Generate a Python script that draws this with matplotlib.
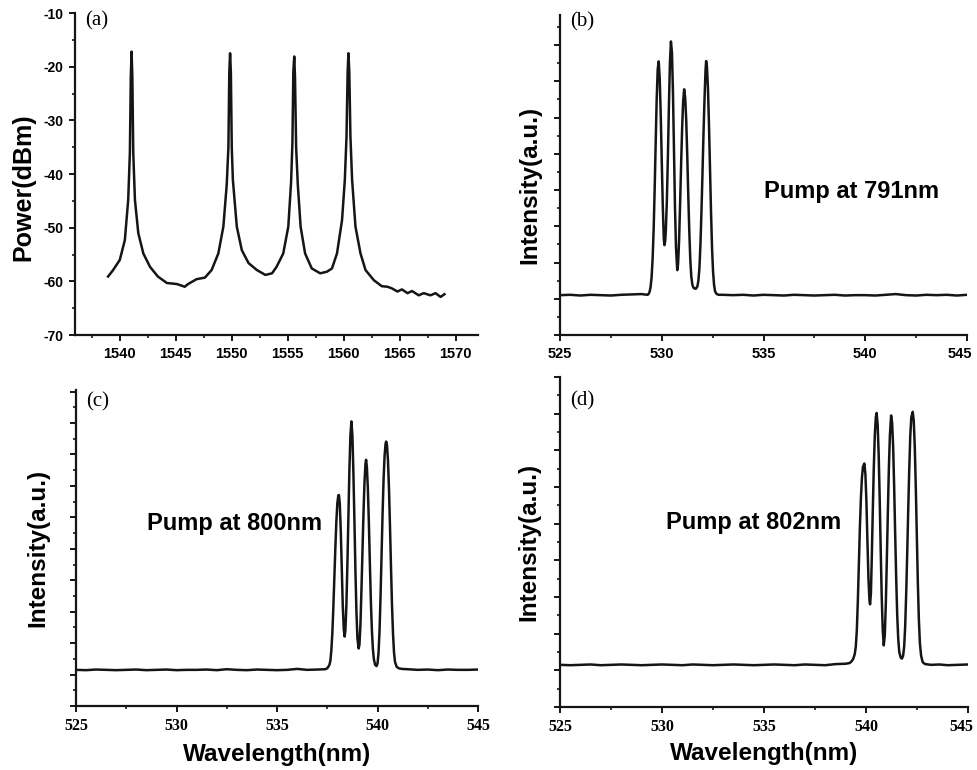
import matplotlib
matplotlib.use("Agg")
import matplotlib.pyplot as plt
import matplotlib.transforms as mtransforms
from matplotlib.ticker import MultipleLocator, NullFormatter

plt.rcParams["font.family"] = ["Liberation Sans", "DejaVu Sans"]
plt.rcParams["axes.unicode_minus"] = False

# (a) fundamental spectrum, power in dBm
lam_a = [1538.95, 1539.4, 1540.0, 1540.45, 1540.75, 1540.9, 1540.98, 1541.05, 1541.12, 1541.2,
         1541.35, 1541.65, 1542.1, 1542.7, 1543.4, 1544.2, 1545.1, 1545.8, 1546.1, 1546.85,
         1547.6, 1548.2, 1548.8, 1549.25, 1549.55, 1549.7, 1549.78, 1549.85, 1549.92, 1550.0,
         1550.1, 1550.45, 1550.9, 1551.5, 1552.25, 1553.0, 1553.6, 1554.0, 1554.6, 1555.05,
         1555.3, 1555.42, 1555.5, 1555.58, 1555.65, 1555.75, 1555.9, 1556.15, 1556.55, 1557.15,
         1557.9, 1558.5, 1558.95, 1559.4, 1559.85, 1560.1, 1560.25, 1560.35, 1560.42, 1560.5,
         1560.6, 1560.75, 1561.05, 1561.5, 1561.95, 1562.7, 1563.4, 1563.9, 1564.3, 1564.8,
         1565.2, 1565.7, 1566.1, 1566.7, 1567.15, 1567.75, 1568.2, 1568.65, 1569.0]
pow_a = [-59.1, -57.9, -56.0, -52.3, -44.8, -36.0, -22.0, -17.2, -22.0, -36.0,
         -44.8, -51.0, -54.8, -57.3, -59.1, -60.3, -60.5, -61.0, -60.5, -59.6,
         -59.3, -57.9, -54.8, -49.8, -42.0, -35.0, -21.0, -17.5, -21.0, -35.0,
         -41.1, -49.8, -54.2, -56.6, -57.9, -58.8, -58.5, -57.3, -54.8, -49.8,
         -41.5, -34.0, -21.0, -18.1, -22.0, -35.0, -42.0, -49.8, -54.8, -57.6,
         -58.5, -58.2, -57.6, -54.8, -48.6, -41.1, -33.0, -21.0, -17.5, -21.0,
         -33.0, -41.1, -49.8, -54.8, -57.9, -59.8, -60.9, -61.0, -61.3, -61.9,
         -61.5, -62.2, -61.8, -62.6, -62.2, -62.6, -62.2, -62.9, -62.4]

# (b) green output, pump at 791 nm
lam_b = [525.0, 525.5, 526.0, 526.5, 527.0, 527.5, 528.0, 528.5, 529.0, 529.3,
         529.35, 529.4, 529.45, 529.5, 529.55, 529.6, 529.65, 529.7, 529.75, 529.8,
         529.85, 529.9, 529.95, 530.0, 530.05, 530.1, 530.13, 530.17, 530.2, 530.25,
         530.3, 530.35, 530.4, 530.45, 530.5, 530.55, 530.6, 530.65, 530.7, 530.76,
         530.8, 530.85, 530.9, 530.95, 531.0, 531.05, 531.1, 531.15, 531.2, 531.25,
         531.3, 531.35, 531.4, 531.45, 531.5, 531.55, 531.62, 531.68, 531.75, 531.8,
         531.85, 531.9, 531.95, 532.0, 532.05, 532.1, 532.15, 532.18, 532.22, 532.27,
         532.32, 532.37, 532.42, 532.47, 532.52, 532.57, 532.62, 532.7, 532.8, 533.0,
         533.5, 534.0, 534.5, 535.0, 535.5, 536.0, 536.5, 537.0, 537.5, 538.0,
         538.5, 539.0, 539.5, 540.0, 540.5, 541.0, 541.5, 542.0, 542.5, 543.0,
         543.5, 544.0, 544.5, 545.0]
int_b = [1.10, 1.11, 1.09, 1.11, 1.10, 1.09, 1.11, 1.12, 1.13, 1.11,
         1.13, 1.19, 1.32, 1.59, 2.10, 2.90, 4.00, 5.28, 6.50, 7.33,
         7.55, 7.06, 6.05, 4.79, 3.55, 2.65, 2.48, 2.60, 2.90, 3.70,
         4.90, 6.30, 7.50, 8.10, 7.80, 6.70, 5.10, 3.50, 2.40, 1.79,
         1.95, 2.60, 3.60, 4.70, 5.70, 6.45, 6.78, 6.55, 5.95, 5.00,
         3.90, 2.90, 2.10, 1.62, 1.40, 1.31, 1.28, 1.28, 1.34, 1.50,
         1.85, 2.50, 3.40, 4.45, 5.55, 6.50, 7.30, 7.56, 7.40, 6.80,
         5.80, 4.60, 3.40, 2.40, 1.75, 1.38, 1.20, 1.13, 1.11, 1.11,
         1.10, 1.11, 1.09, 1.11, 1.10, 1.09, 1.11, 1.10, 1.09, 1.10,
         1.11, 1.09, 1.10, 1.10, 1.09, 1.11, 1.13, 1.10, 1.09, 1.11,
         1.10, 1.11, 1.09, 1.11]

# (c) green output, pump at 800 nm
lam_c = [525.0, 525.5, 526.0, 526.5, 527.0, 527.5, 528.0, 528.5, 529.0, 529.5,
         530.0, 530.5, 531.0, 531.5, 532.0, 532.5, 533.0, 533.5, 534.0, 534.5,
         535.0, 535.5, 536.0, 536.5, 537.0, 537.4, 537.5, 537.6, 537.65, 537.7,
         537.75, 537.8, 537.85, 537.9, 537.95, 538.0, 538.05, 538.08, 538.12, 538.17,
         538.22, 538.27, 538.32, 538.36, 538.4, 538.45, 538.5, 538.55, 538.6, 538.65,
         538.7, 538.75, 538.8, 538.85, 538.9, 538.95, 539.0, 539.06, 539.1, 539.15,
         539.2, 539.25, 539.3, 539.35, 539.4, 539.43, 539.47, 539.52, 539.57, 539.62,
         539.67, 539.72, 539.77, 539.82, 539.88, 539.95, 540.0, 540.05, 540.1, 540.15,
         540.2, 540.25, 540.3, 540.35, 540.4, 540.43, 540.47, 540.52, 540.57, 540.62,
         540.67, 540.72, 540.77, 540.82, 540.87, 540.95, 541.05, 541.2, 541.5, 542.0,
         542.5, 543.0, 543.5, 544.0, 544.5, 545.0]
int_c = [1.15, 1.14, 1.16, 1.15, 1.14, 1.15, 1.16, 1.14, 1.15, 1.16,
         1.14, 1.15, 1.15, 1.16, 1.14, 1.17, 1.15, 1.14, 1.16, 1.15,
         1.14, 1.15, 1.18, 1.15, 1.16, 1.17, 1.20, 1.30, 1.42, 1.75,
         2.30, 3.10, 4.05, 5.00, 5.85, 6.45, 6.70, 6.71, 6.45, 5.60,
         4.40, 3.20, 2.45, 2.21, 2.40, 3.20, 4.50, 6.00, 7.50, 8.60,
         9.05, 8.60, 7.40, 5.90, 4.30, 3.00, 2.15, 1.83, 1.95, 2.60,
         3.70, 4.90, 6.10, 7.10, 7.70, 7.83, 7.60, 6.90, 5.80, 4.50,
         3.30, 2.40, 1.80, 1.48, 1.31, 1.27, 1.35, 1.70, 2.40, 3.50,
         4.80, 6.10, 7.20, 7.95, 8.35, 8.41, 8.30, 7.80, 6.90, 5.70,
         4.40, 3.20, 2.30, 1.70, 1.40, 1.25, 1.20, 1.18, 1.17, 1.15,
         1.16, 1.14, 1.16, 1.15, 1.15, 1.16]

# (d) green output, pump at 802 nm
lam_d = [525.0, 525.5, 526.0, 526.5, 527.0, 527.5, 528.0, 528.5, 529.0, 529.5,
         530.0, 530.5, 531.0, 531.5, 532.0, 532.5, 533.0, 533.5, 534.0, 534.5,
         535.0, 535.5, 536.0, 536.5, 537.0, 537.5, 538.0, 538.5, 539.0, 539.2,
         539.3, 539.38, 539.45, 539.5, 539.55, 539.6, 539.65, 539.7, 539.75, 539.8,
         539.85, 539.92, 539.97, 540.02, 540.07, 540.12, 540.17, 540.2, 540.24, 540.28,
         540.33, 540.38, 540.43, 540.48, 540.52, 540.57, 540.62, 540.67, 540.72, 540.77,
         540.82, 540.87, 540.92, 540.97, 541.02, 541.07, 541.12, 541.17, 541.23, 541.28,
         541.33, 541.38, 541.43, 541.48, 541.53, 541.58, 541.63, 541.7, 541.76, 541.82,
         541.87, 541.92, 541.97, 542.02, 542.07, 542.12, 542.17, 542.22, 542.29, 542.34,
         542.39, 542.44, 542.49, 542.54, 542.59, 542.64, 542.7, 542.78, 542.9, 543.2,
         543.6, 544.0, 544.5, 545.0]
int_d = [1.15, 1.14, 1.15, 1.16, 1.14, 1.15, 1.16, 1.15, 1.14, 1.15,
         1.16, 1.15, 1.14, 1.16, 1.15, 1.14, 1.15, 1.16, 1.15, 1.14,
         1.15, 1.16, 1.15, 1.14, 1.16, 1.15, 1.14, 1.17, 1.18, 1.20,
         1.25, 1.32, 1.45, 1.65, 2.10, 2.90, 3.90, 4.90, 5.70, 6.25,
         6.55, 6.64, 6.35, 5.60, 4.50, 3.50, 2.90, 2.80, 3.10, 4.00,
         5.30, 6.50, 7.40, 7.90, 8.02, 7.70, 6.90, 5.70, 4.30, 3.00,
         2.10, 1.68, 1.95, 2.80, 4.00, 5.30, 6.50, 7.40, 7.95, 7.75,
         7.10, 6.00, 4.70, 3.50, 2.50, 1.85, 1.50, 1.35, 1.32, 1.40,
         1.65, 2.20, 3.10, 4.20, 5.40, 6.50, 7.40, 7.90, 8.05, 7.80,
         7.10, 6.00, 4.70, 3.40, 2.40, 1.75, 1.40, 1.22, 1.17, 1.15,
         1.16, 1.14, 1.15, 1.16]

ink = "#151515"
fig = plt.figure(figsize=(9.77, 7.70), dpi=100)
ax_a = fig.add_axes([0.0768, 0.5649, 0.4125, 0.4182])
ax_b = fig.add_axes([0.5732, 0.5649, 0.4166, 0.4156])
ax_c = fig.add_axes([0.0778, 0.0831, 0.4115, 0.4104])
ax_d = fig.add_axes([0.5732, 0.0818, 0.4176, 0.4286])

for ax in (ax_a, ax_b, ax_c, ax_d):
    for s in ("top", "right"):
        ax.spines[s].set_visible(False)
    for s in ("left", "bottom"):
        ax.spines[s].set_linewidth(1.6)
        ax.spines[s].set_color(ink)
    ax.tick_params(which="major", direction="out", length=4.5, width=1.4, color=ink, pad=4)
    ax.tick_params(which="minor", direction="out", length=2.5, width=1.2, color=ink)

# (a)
ax_a.plot(lam_a, pow_a, color=ink, lw=1.8)
ax_a.set_xlim(1536, 1572)
ax_a.set_ylim(-70, -10)
ax_a.xaxis.set_minor_locator(MultipleLocator(2.5))
ax_a.yaxis.set_major_locator(MultipleLocator(10))
ax_a.yaxis.set_minor_locator(MultipleLocator(5))
ax_a.set_xticks([1540, 1545, 1550, 1555, 1560, 1565, 1570])
for lab in ax_a.get_xticklabels():
    lab.set_fontweight("bold")
    lab.set_fontsize(10.5)
for lab in ax_a.get_yticklabels():
    lab.set_fontweight("bold")
    lab.set_fontsize(10)
ax_a.set_ylabel("Power(dBm)", fontsize=18, fontweight="bold")
ax_a.yaxis.set_label_coords(-0.099, 0.46)

# (b), (c), (d)
panels = [(ax_b, lam_b, int_b, 8.83, "Pump at 791nm", (535.0, 3.95), False),
          (ax_c, lam_c, int_c, 10.05, "Pump at 800nm", (528.52, 5.79), True),
          (ax_d, lam_d, int_d, 9.0, "Pump at 802nm", (530.2, 5.02), True)]
for ax, lam, inten, top, txt, pos, lower in panels:
    ax.plot(lam, inten, color=ink, lw=1.8)
    ax.set_xlim(525, 545)
    ax.set_ylim(0, top)
    ax.set_xticks([525, 530, 535, 540, 545])
    ax.xaxis.set_minor_locator(MultipleLocator(2.5))
    ax.yaxis.set_major_locator(MultipleLocator(1))
    ax.yaxis.set_minor_locator(MultipleLocator(0.5))
    ax.yaxis.set_major_formatter(NullFormatter())
    ax.text(pos[0], pos[1], txt, fontsize=17, fontweight="bold", va="center", ha="left")
    ax.set_ylabel("Intensity(a.u.)", fontsize=17.5, fontweight="bold")
    labs = ax.get_xticklabels()
    if lower:
        for lab in labs:
            lab.set_family("Liberation Serif")
            lab.set_fontweight("bold")
            lab.set_fontsize(11.5)
        ax.set_xlabel("Wavelength(nm)", fontsize=17.5, fontweight="bold")
    else:
        for lab in labs:
            lab.set_fontweight("bold")
            lab.set_fontsize(10.5)

# keep the right-hand "545" labels inside the figure, as in the original
for ax in (ax_b, ax_d):
    last = ax.get_xticklabels()[-1]
    last.set_transform(last.get_transform() +
                       mtransforms.ScaledTranslation(-7 / 100, 0, fig.dpi_scale_trans))

ax_b.yaxis.set_label_coords(-0.047, 0.47)
ax_c.yaxis.set_label_coords(-0.067, 0.5)
ax_d.yaxis.set_label_coords(-0.049, 0.5)
ax_c.xaxis.set_label_coords(0.501, -0.117)
ax_d.xaxis.set_label_coords(0.5, -0.106)

for ax, lab, y in ((ax_a, "(a)", 0.975), (ax_b, "(b)", 0.979), (ax_c, "(c)", 0.963), (ax_d, "(d)", 0.928)):
    ax.text(0.026, y, lab, transform=ax.transAxes, family="Liberation Serif",
            fontsize=15, va="center", ha="left")

fig.savefig("out.png", dpi=100)
